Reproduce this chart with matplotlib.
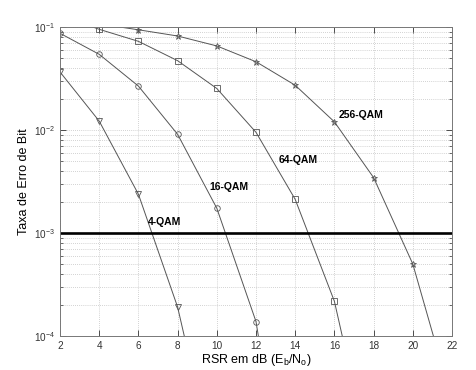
import numpy as np
import matplotlib
matplotlib.use("Agg")
import matplotlib.pyplot as plt
from matplotlib.ticker import LogLocator, NullFormatter

plt.rcParams['font.family'] = ['Liberation Sans', 'DejaVu Sans']
plt.rcParams['mathtext.default'] = 'regular'

# values (last point = where each curve leaves the axes)
snr_4qam = [2, 4, 6, 8, 8.34]
ber_4qam = [0.0366, 0.0122, 0.00238, 1.91e-4, 1e-4]

snr_16qam = [2, 4, 6, 8, 10, 12, 12.12]
ber_16qam = [0.0869, 0.0543, 0.0267, 0.00908, 0.00174, 1.38e-4, 1e-4]

snr_64qam = [2, 4, 6, 8, 10, 12, 14, 16, 16.40]
ber_64qam = [0.13, 0.095, 0.0726, 0.0471, 0.0253, 0.0095, 0.00212, 2.17e-4, 1e-4]

snr_256qam = [4, 6, 8, 10, 12, 14, 16, 18, 20, 21.05]
ber_256qam = [0.107, 0.094, 0.0818, 0.0655, 0.046, 0.0272, 0.012, 0.00345, 5.0e-4, 1e-4]

ber_target = 1e-3

labels = ['4-QAM', '16-QAM', '64-QAM', '256-QAM']
label_x = [6.49, 9.62, 13.14, 16.2]
label_y = [1.29e-3, 2.82e-3, 5.12e-3, 0.014]

fig = plt.figure(figsize=(4.77, 3.70), dpi=100)
ax = fig.add_axes([0.1258, 0.0919, 0.8218, 0.8351])

curves = [(snr_4qam, ber_4qam, 'v'), (snr_16qam, ber_16qam, 'o'),
          (snr_64qam, ber_64qam, 's'), (snr_256qam, ber_256qam, '*')]
for snr, ber, mk in curves:
    ax.semilogy(snr, ber, '-', color='#555555', linewidth=0.7)
    ax.semilogy(snr[:-1], ber[:-1], mk, color='#555555', markersize=4.5 if mk == '*' else 4,
                markerfacecolor='none', markeredgewidth=0.6)

ax.axhline(ber_target, color='black', linewidth=1.9)

for i in range(len(labels)):
    ax.text(label_x[i], label_y[i], labels[i], fontsize=7.5, fontweight='bold', va='center', ha='left')

ax.set_xlim(2, 22)
ax.set_ylim(1e-4, 1e-1)
ax.set_xticks(np.arange(2, 23, 2))
ax.yaxis.set_major_locator(LogLocator(base=10, numticks=10))
ax.yaxis.set_minor_locator(LogLocator(base=10, subs=np.arange(2, 10), numticks=10))
ax.yaxis.set_minor_formatter(NullFormatter())

ax.grid(True, which='major', linestyle=(0, (1, 1.5)), color='#c4c4c4', linewidth=0.6)
ax.grid(True, which='minor', axis='y', linestyle=(0, (1, 1.5)), color='#c4c4c4', linewidth=0.6)

ax.tick_params(which='both', direction='in', top=True, right=True, labelsize=7.2, colors='#333333')
ax.tick_params(which='major', length=4, width=0.6)
ax.tick_params(which='minor', length=2, width=0.5)
for s in ax.spines.values():
    s.set_color('#777777')
    s.set_linewidth(0.7)

ax.set_xlabel('RSR em dB (E$_b$/N$_o$)', fontsize=9, labelpad=1)
ax.set_ylabel('Taxa de Erro de Bit', fontsize=9, labelpad=3)

fig.savefig('out.png', dpi=100)
